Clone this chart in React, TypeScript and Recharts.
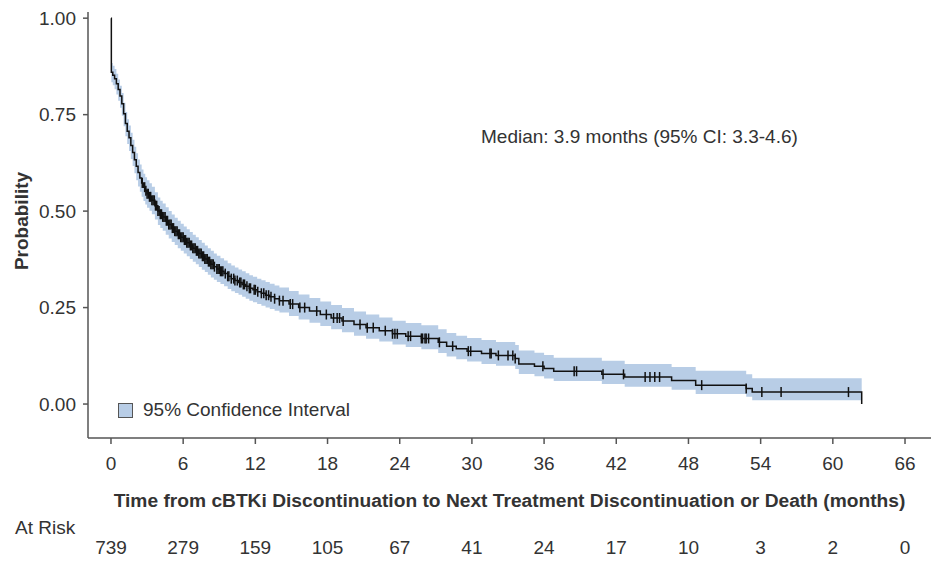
import React from "react";
import { ComposedChart, Area, Line, XAxis, YAxis, Legend, Label } from "recharts";

// Kaplan-Meier step estimate (time in months)
const TIMES = [
  0, 0.03, 0.15, 0.3, 0.45, 0.6, 0.75, 0.9, 1.05, 1.2, 1.35, 1.5, 1.65, 1.8, 1.95, 2.1, 2.25,
  2.4, 2.55, 2.7, 2.85, 3.0, 3.2, 3.4, 3.65, 3.9, 4.1, 4.3, 4.55, 4.8, 5.05, 5.3, 5.55, 5.8,
  6.05, 6.3, 6.55, 6.8, 7.05, 7.3, 7.55, 7.8, 8.05, 8.3, 8.55, 8.8, 9.1, 9.4, 9.7, 10.0, 10.3,
  10.6, 10.9, 11.2, 11.5, 11.8, 12.15, 12.5, 12.85, 13.2, 13.6, 14.0, 14.8, 15.6, 16.5, 17.4,
  18.3, 19.2, 20.2, 21.2, 22.3, 23.4, 24.5, 25.8, 27.2, 27.9, 28.7, 29.6, 30.8, 32.0, 33.6,
  33.9, 35.2, 36.0, 36.8, 40.8, 42.7, 46.6, 48.6, 52.8, 53.3, 62.4,
];
const SURV = [
  1.0, 0.86, 0.852, 0.843, 0.83, 0.815, 0.798, 0.778, 0.752, 0.727, 0.707, 0.69, 0.67, 0.652,
  0.633, 0.616, 0.6, 0.586, 0.573, 0.562, 0.553, 0.545, 0.537, 0.528, 0.514, 0.5, 0.492,
  0.485, 0.475, 0.465, 0.456, 0.448, 0.44, 0.432, 0.425, 0.418, 0.411, 0.404, 0.397, 0.39,
  0.383, 0.376, 0.369, 0.362, 0.356, 0.35, 0.344, 0.338, 0.331, 0.325, 0.32, 0.315, 0.31,
  0.305, 0.3, 0.296, 0.291, 0.287, 0.282, 0.278, 0.273, 0.268, 0.259, 0.25, 0.241, 0.232,
  0.223, 0.215, 0.206, 0.198, 0.19, 0.182, 0.176, 0.17, 0.16, 0.15, 0.143, 0.137, 0.131,
  0.126, 0.118, 0.104, 0.098, 0.092, 0.085, 0.077, 0.07, 0.061, 0.049, 0.04, 0.031, 0.0,
];
const CI_LOW = [
  1.0, 0.834, 0.826, 0.816, 0.802, 0.786, 0.768, 0.747, 0.72, 0.694, 0.674, 0.656, 0.635,
  0.617, 0.598, 0.58, 0.564, 0.55, 0.537, 0.526, 0.517, 0.509, 0.501, 0.492, 0.478, 0.464,
  0.456, 0.449, 0.439, 0.429, 0.42, 0.412, 0.404, 0.397, 0.39, 0.383, 0.376, 0.369, 0.362,
  0.355, 0.348, 0.342, 0.335, 0.328, 0.322, 0.316, 0.311, 0.305, 0.298, 0.292, 0.288, 0.283,
  0.278, 0.273, 0.268, 0.264, 0.259, 0.255, 0.25, 0.246, 0.242, 0.237, 0.228, 0.219, 0.211,
  0.202, 0.194, 0.186, 0.177, 0.169, 0.162, 0.154, 0.148, 0.142, 0.132, 0.123, 0.116, 0.11,
  0.104, 0.099, 0.091, 0.078, 0.072, 0.066, 0.06, 0.052, 0.045, 0.037, 0.026, 0.019, 0.01,
  0.01,
];
const CI_HIGH = [
  1.0, 0.884, 0.877, 0.868, 0.856, 0.841, 0.825, 0.806, 0.781, 0.757, 0.738, 0.722, 0.703,
  0.685, 0.667, 0.65, 0.634, 0.621, 0.608, 0.597, 0.588, 0.58, 0.572, 0.563, 0.549, 0.535,
  0.527, 0.52, 0.51, 0.5, 0.491, 0.483, 0.475, 0.467, 0.46, 0.453, 0.446, 0.439, 0.432,
  0.425, 0.418, 0.411, 0.404, 0.397, 0.39, 0.384, 0.378, 0.372, 0.365, 0.359, 0.354, 0.349,
  0.344, 0.339, 0.334, 0.33, 0.325, 0.321, 0.316, 0.312, 0.307, 0.302, 0.293, 0.284, 0.275,
  0.266, 0.257, 0.249, 0.24, 0.232, 0.224, 0.216, 0.21, 0.204, 0.194, 0.184, 0.177, 0.171,
  0.166, 0.161, 0.153, 0.139, 0.133, 0.127, 0.12, 0.112, 0.104, 0.096, 0.086, 0.077, 0.067,
  0.067,
];
const CENSORED = [
  2.6, 2.8, 2.9, 3.0, 3.1, 3.2, 3.3, 3.4, 3.5, 3.6, 3.7, 3.8, 3.9, 4.0, 4.1, 4.2, 4.3, 4.4,
  4.5, 4.6, 4.7, 4.8, 4.9, 5.0, 5.1, 5.2, 5.3, 5.4, 5.5, 5.6, 5.7, 5.8, 5.9, 6.0, 6.1, 6.2,
  6.3, 6.4, 6.5, 6.6, 6.7, 6.8, 6.9, 7.0, 7.1, 7.2, 7.3, 7.4, 7.5, 7.6, 7.7, 7.8, 7.9, 8.0,
  8.1, 8.2, 8.3, 8.4, 8.5, 8.6, 8.8, 8.9, 9.0, 9.1, 9.2, 9.3, 9.5, 9.7, 9.8, 10.0, 10.2,
  10.3, 10.5, 10.7, 10.8, 11.0, 11.1, 11.3, 11.5, 11.6, 11.9, 12.0, 12.2, 12.5, 12.7, 12.9,
  13.1, 13.3, 13.6, 14.0, 14.3, 14.9, 15.1, 15.7, 16.1, 17.1, 17.9, 18.5, 18.8, 19.0, 19.3,
  20.7, 21.3, 21.8, 22.8, 23.4, 23.6, 23.8, 24.7, 24.9, 25.8, 25.9, 26.1, 26.2, 26.4, 27.3,
  28.4, 29.7, 29.9, 31.5, 31.6, 32.2, 33.0, 33.4, 33.6, 35.9, 38.5, 38.7, 40.9, 42.6, 44.4,
  44.8, 45.2, 45.6, 49.1, 52.8, 54.1, 55.7, 61.3,
];

const X_TICKS = [0, 6, 12, 18, 24, 30, 36, 42, 48, 54, 60, 66];
const AT_RISK = [739, 279, 159, 105, 67, 41, 24, 17, 10, 3, 2, 0];
const Y_TICKS = [0, 0.25, 0.5, 0.75, 1];

const FONT = '"Liberation Sans", Arial, sans-serif';
const TEXT = "#333";
const AXIS = "#555";
const CI_FILL = "#b8cde6";

function stepAt(t: number) {
  let k = 0;
  for (let i = 0; i < TIMES.length; i++) if (TIMES[i] <= t) k = i;
  return k;
}

const rows = [
  ...TIMES.map((t, i) => ({ t, s: SURV[i], ci: [CI_LOW[i], CI_HIGH[i]], cens: false })),
  ...CENSORED.map((t) => {
    const k = stepAt(t);
    return { t, s: SURV[k], ci: [CI_LOW[k], CI_HIGH[k]], cens: true };
  }),
].sort((a, b) => a.t - b.t);

const CensorTick = (props: any) => {
  const { cx, cy, payload, index } = props;
  if (!payload || !payload.cens || cx == null) return <g key={`c${index}`} />;
  return (
    <line key={`c${index}`} x1={cx} x2={cx} y1={cy - 5} y2={cy + 5} stroke="#111" strokeWidth={1.5} />
  );
};

const renderLegend = (props: any) => {
  const items = (props.payload || []).filter((p: any) => p.type !== "none");
  return (
    <div style={{ display: "flex", alignItems: "center", fontFamily: FONT, fontSize: 19, color: TEXT }}>
      {items.map((p: any) => (
        <div key={p.value} style={{ display: "flex", alignItems: "center" }}>
          <span
            style={{
              display: "inline-block",
              width: 13,
              height: 13,
              background: CI_FILL,
              border: `1px solid ${AXIS}`,
              marginRight: 10,
            }}
          />
          <span style={{ lineHeight: "22px" }}>{p.value}</span>
        </div>
      ))}
    </div>
  );
};

export default function App() {
  const tickStyle = { fontFamily: FONT, fontSize: 19, fill: TEXT };
  return (
    <div style={{ position: "absolute", left: 0, top: 0, width: 931, height: 561, background: "#fff" }}>
      <ComposedChart width={931} height={561} data={rows} margin={{ top: 12, right: 0, bottom: 0, left: 0 }}>
        <XAxis
          dataKey="t"
          type="number"
          domain={[-1.91, 68.16]}
          ticks={X_TICKS}
          allowDataOverflow
          height={75}
          tickSize={6}
          tickMargin={13}
          tick={tickStyle}
          stroke={AXIS}
          axisLine={{ stroke: AXIS, strokeWidth: 1.5 }}
          tickLine={{ stroke: AXIS, strokeWidth: 1.5 }}
        >
          <Label
            value="Time from cBTKi Discontinuation to Next Treatment Discontinuation or Death (months)"
            position="insideBottom"
            offset={6}
            style={{ fontFamily: FONT, fontSize: 19.2, fontWeight: "bold", fill: TEXT }}
          />
        </XAxis>
        <XAxis
          xAxisId="risk"
          dataKey="t"
          type="number"
          domain={[-1.91, 68.16]}
          ticks={X_TICKS}
          allowDataOverflow
          height={48}
          axisLine={false}
          tickLine={false}
          tickSize={0}
          tickMargin={28}
          tick={tickStyle}
          tickFormatter={(v: number) => String(AT_RISK[X_TICKS.indexOf(v)])}
        >
          <Label
            content={(p: any) => (
              <text
                x={15}
                y={(p.viewBox?.y ?? 513) + 14}
                dominantBaseline="central"
                style={{ fontFamily: FONT, fontSize: 19, fill: TEXT }}
              >
                At Risk
              </text>
            )}
          />
        </XAxis>
        <YAxis
          type="number"
          domain={[-0.088, 1.016]}
          ticks={Y_TICKS}
          allowDataOverflow
          width={88}
          tickSize={5}
          tickMargin={7}
          tick={tickStyle}
          tickFormatter={(v: number) => v.toFixed(2)}
          axisLine={{ stroke: AXIS, strokeWidth: 1.5 }}
          tickLine={{ stroke: AXIS, strokeWidth: 1.5 }}
        >
          <Label
            content={(p: any) => {
              const vb = p.viewBox || { y: 12, height: 426 };
              const cy = vb.y + vb.height / 2 - 4;
              return (
                <text
                  x={21}
                  y={cy}
                  transform={`rotate(-90 21 ${cy})`}
                  textAnchor="middle"
                  dominantBaseline="central"
                  style={{ fontFamily: FONT, fontSize: 19, fontWeight: "bold", fill: TEXT }}
                >
                  Probability
                </text>
              );
            }}
          />
        </YAxis>
        <Legend
          layout="horizontal"
          verticalAlign="middle"
          align="center"
          wrapperStyle={{ left: 118, top: 399, width: "auto" }}
          content={renderLegend}
        />
        <Area
          type="stepAfter"
          dataKey="ci"
          name="95% Confidence Interval"
          fill={CI_FILL}
          fillOpacity={1}
          stroke="none"
          isAnimationActive={false}
          activeDot={false}
        />
        <Line
          type="stepAfter"
          dataKey="s"
          stroke="#111"
          strokeWidth={1.5}
          dot={CensorTick}
          activeDot={false}
          legendType="none"
          isAnimationActive={false}
        />
      </ComposedChart>
      <div
        style={{
          position: "absolute",
          left: 481,
          top: 126,
          fontFamily: FONT,
          fontSize: 19,
          lineHeight: "22px",
          color: TEXT,
          whiteSpace: "nowrap",
        }}
      >
        Median: 3.9 months (95% CI: 3.3-4.6)
      </div>
    </div>
  );
}
